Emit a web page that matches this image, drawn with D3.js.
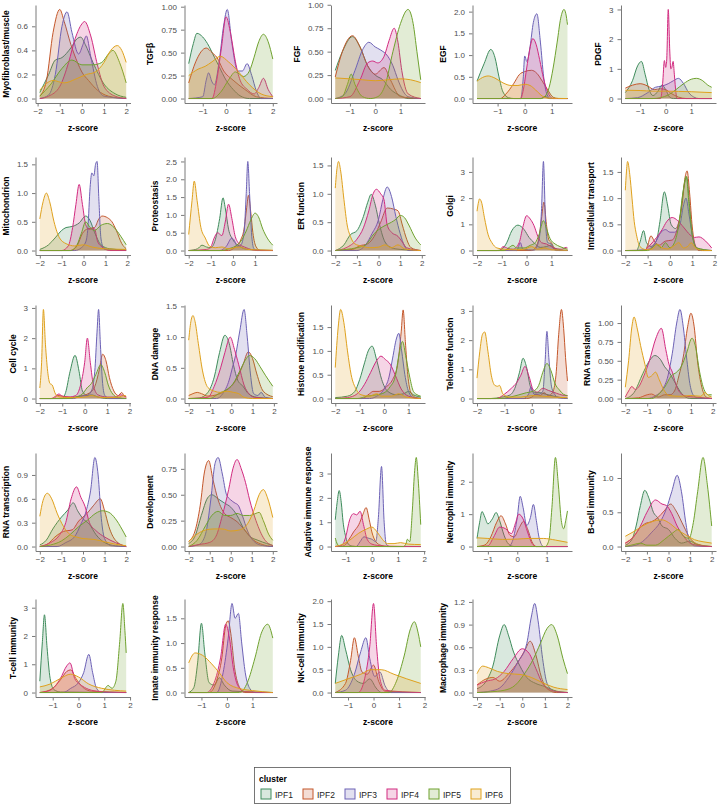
<!DOCTYPE html>
<html><head><meta charset="utf-8">
<script src="https://cdn.jsdelivr.net/npm/d3@7"></script>
<style>
body{margin:0;background:#fff;}
text{font-family:"Liberation Sans",Arial,Helvetica,sans-serif;}
</style></head>
<body>
<script>
// ---------- DATA ----------
const clusters = ["IPF1","IPF2","IPF3","IPF4","IPF5","IPF6"];
const panels = ["Myofibroblast/muscle","TGFβ","FGF","EGF","PDGF",
  "Mitochondrion","Proteostasis","ER function","Golgi","Intracellular transport",
  "Cell cycle","DNA damage","Histone modification","Telomere function","RNA translation",
  "RNA transcription","Development","Adaptive immune response","Neutrophil immunity","B-cell immunity",
  "T-cell immunity","Innate immunity response","NK-cell immunity","Macrophage immunity"];
// z-score range of each panel's data
const xRange = [[-1.9,2.0],[-1.6,2.0],[-1.58,1.8],[-1.76,1.58],[-1.58,1.8],
  [-2,1.95],[-2,1.8],[-2,1.95],[-2,1.65],[-2,1.87],
  [-2,1.85],[-2,1.95],[-2,1.5],[-2,1.3],[-2,1.95],
  [-2,2],[-2,2],[-1.4,1.87],[-1.37,1.71],[-2,2],
  [-1.5,1.85],[-1.5,1.8],[-1.5,1.85],[-2,2]];
const yTickLabels = [["0.0","0.2","0.4","0.6"],["0.00","0.25","0.50","0.75","1.00"],["0.00","0.25","0.50","0.75","1.00"],["0.0","0.5","1.0","1.5","2.0"],["0","1","2","3"],
  ["0.0","0.5","1.0","1.5"],["0.0","0.5","1.0","1.5","2.0","2.5"],["0.0","0.5","1.0","1.5"],["0","1","2","3"],["0.0","0.5","1.0","1.5"],
  ["0","1","2","3"],["0.0","0.5","1.0","1.5"],["0.0","0.5","1.0","1.5"],["0","1","2","3"],["0.00","0.25","0.50","0.75","1.00"],
  ["0.0","0.3","0.6","0.9"],["0.00","0.25","0.50","0.75"],["0","1","2","3"],["0","1","2"],["0.0","0.5","1.0"],
  ["0","1","2","3"],["0.0","0.5","1.0","1.5"],["0.0","0.5","1.0","1.5","2.0"],["0.0","0.3","0.6","0.9","1.2"]];

// density curves: flat [z, density, z, density, ...] per panel
const ipf1 = [
 [-1.9,0.05,-1.5,0.2,-1.2,0.32,-0.9,0.34,-0.5,0.42,-0.2,0.5,-0.05,0.51,0.15,0.45,0.5,0.3,1.0,0.12,1.5,0.04,2.0,0.01],
 [-1.6,0.38,-1.4,0.6,-1.25,0.71,-1.0,0.67,-0.8,0.6,-0.5,0.45,-0.3,0.35,0,0.2,0.3,0.1,0.6,0.03,1.0,0,2.0,0],
 [-1.58,0.3,-1.3,0.5,-0.9,0.66,-0.6,0.55,-0.3,0.35,0,0.25,0.3,0.2,0.6,0.1,1.0,0.03,1.3,0,1.8,0],
 [-1.76,0.4,-1.5,0.8,-1.25,1.13,-1.1,0.95,-0.95,0.5,-0.8,0.15,-0.6,0.02,-0.4,0,0.6,0,0.75,0.05,0.9,0,1.58,0],
 [-1.58,0.2,-1.3,0.6,-1.1,1.1,-0.95,1.25,-0.8,0.8,-0.65,0.3,-0.5,0.1,-0.3,0.25,-0.15,0.45,0,0.3,0.15,0.05,0.3,0,1.8,0],
 [-2,0.02,-1.6,0.1,-1.3,0.22,-1.0,0.35,-0.8,0.4,-0.5,0.42,-0.2,0.48,0.1,0.6,0.3,0.52,0.5,0.32,0.8,0.1,1.2,0.03,1.95,0.01],
 [-2,0,-1.6,0.05,-1.4,0.15,-1.2,0.1,-1.0,0.08,-0.8,0.3,-0.6,0.9,-0.45,1.48,-0.35,1.2,-0.2,0.6,0,0.3,0.3,0.12,0.7,0.03,1.8,0],
 [-2,0,-1.6,0.1,-1.3,0.28,-1.0,0.35,-0.7,0.6,-0.5,0.85,-0.34,0.99,-0.15,0.8,0.05,0.45,0.3,0.15,0.6,0.05,1.0,0.02,1.95,0],
 [-2,0,-1.2,0,-1.0,0.05,-0.8,0.3,-0.6,0.75,-0.35,0.97,-0.1,0.8,0.1,0.5,0.3,0.3,0.55,0.12,0.8,0.15,0.95,0.2,1.1,0.1,1.3,0.04,1.65,0],
 [-2,0,-1.5,0,-1.35,0.15,-1.18,0.38,-1.05,0.15,-0.85,0.08,-0.6,0.2,-0.45,0.55,-0.25,1.12,-0.1,0.85,0.05,0.5,0.25,0.42,0.45,0.65,0.62,1.2,0.75,1.4,0.87,0.9,1.0,0.3,1.2,0.05,1.87,0],
 [-2,0,-1.0,0,-0.85,0.2,-0.65,0.9,-0.43,1.43,-0.25,0.9,-0.1,0.25,0.1,0.1,0.3,0.12,0.6,0.05,1.0,0,1.85,0],
 [-2,0,-1.5,0.01,-1.1,0.1,-0.8,0.35,-0.55,0.75,-0.3,1.03,-0.1,0.9,0.1,0.55,0.3,0.3,0.55,0.2,0.8,0.08,1.2,0.02,1.95,0],
 [-2,0.02,-1.5,0.05,-1.2,0.15,-1.0,0.4,-0.8,0.75,-0.65,1.0,-0.49,1.1,-0.3,0.8,-0.1,0.4,0.15,0.15,0.5,0.08,0.8,0.1,1.0,0.15,1.2,0.08,1.5,0.03],
 [-2,0,-1.5,0,-1.1,0.05,-0.8,0.12,-0.6,0.4,-0.45,0.9,-0.32,1.38,-0.2,1.1,-0.05,0.4,0.1,0.2,0.3,0.2,0.5,0.15,0.8,0.08,1.3,0],
 [-2,0,-1.6,0.08,-1.2,0.33,-0.9,0.5,-0.65,0.57,-0.4,0.52,-0.2,0.42,0,0.35,0.2,0.25,0.45,0.12,0.7,0.03,1.0,0,1.95,0],
 [-2,0.02,-1.7,0.08,-1.4,0.22,-1.0,0.37,-0.7,0.46,-0.45,0.55,-0.25,0.45,0,0.35,0.3,0.28,0.6,0.15,1.0,0.05,1.5,0.01,2,0],
 [-2,0.03,-1.7,0.1,-1.4,0.3,-1.1,0.47,-0.9,0.5,-0.6,0.46,-0.3,0.42,0,0.38,0.3,0.3,0.6,0.18,0.9,0.1,1.3,0.06,1.7,0.03,2,0.01],
 [-1.4,1.1,-1.33,1.8,-1.25,2.3,-1.17,1.8,-1.1,1.0,-1.0,0.4,-0.9,0.1,-0.75,0.02,-0.5,0,1.87,0],
 [-1.37,0.25,-1.28,0.75,-1.2,1.08,-1.1,0.9,-1.0,0.7,-0.85,0.85,-0.72,1.05,-0.6,0.8,-0.45,0.35,-0.3,0.08,-0.1,0,1.71,0],
 [-2,0.02,-1.7,0.1,-1.5,0.3,-1.3,0.6,-1.1,0.82,-0.9,0.7,-0.7,0.5,-0.5,0.42,-0.3,0.3,0,0.25,0.3,0.12,0.6,0.05,1.0,0.08,1.3,0.03,2,0],
 [-1.5,0.4,-1.4,1.8,-1.32,2.75,-1.22,1.6,-1.1,0.5,-0.95,0.1,-0.7,0.02,1.85,0],
 [-1.5,0,-1.3,0.1,-1.15,0.6,-1.0,1.4,-0.87,0.8,-0.7,0.2,-0.5,0.15,-0.3,0.3,-0.1,0.15,0.2,0.03,1.8,0],
 [-1.5,0.2,-1.38,0.8,-1.25,1.25,-1.1,0.95,-0.9,0.5,-0.65,0.25,-0.4,0.2,-0.15,0.3,0.1,0.1,0.3,0,1.85,0],
 [-2,0.05,-1.6,0.15,-1.3,0.35,-1.0,0.75,-0.8,0.9,-0.6,0.75,-0.4,0.55,-0.1,0.35,0.2,0.2,0.6,0.12,1.0,0.08,1.5,0.02,2,0]
];
const ipf2 = [
 [-1.9,0.02,-1.6,0.15,-1.3,0.55,-1.0,0.74,-0.8,0.64,-0.5,0.45,-0.2,0.3,0,0.22,0.3,0.15,0.7,0.07,1.2,0.02,2.0,0],
 [-1.6,0.17,-1.3,0.4,-0.85,0.55,-0.6,0.5,-0.4,0.45,-0.1,0.3,0.3,0.2,0.8,0.1,1.3,0.02,2.0,0],
 [-1.58,0.23,-1.3,0.5,-0.9,0.67,-0.6,0.55,-0.3,0.35,0,0.26,0.35,0.33,0.6,0.2,1.0,0.02,1.8,0],
 [-1.76,0,-0.9,0,-0.7,0.1,-0.4,0.35,-0.2,0.55,0,0.62,0.25,0.65,0.45,0.58,0.65,0.4,0.85,0.2,1.05,0.03,1.25,0,1.58,0],
 [-1.58,0.35,-1.3,0.45,-1.0,0.5,-0.7,0.42,-0.45,0.3,-0.2,0.33,0,0.3,0.2,0.18,0.5,0.05,0.8,0,1.8,0],
 [-2,0,-0.6,0,-0.3,0.08,-0.05,0.3,0.2,0.38,0.5,0.4,0.7,0.55,0.85,0.6,1.1,0.57,1.3,0.5,1.5,0.35,1.75,0.12,1.95,0.03],
 [-2,0,-0.2,0,0.1,0.1,0.35,0.3,0.5,0.6,0.62,1.2,0.7,1.55,0.8,1.1,0.9,0.5,1.05,0.1,1.25,0,1.8,0],
 [-2,0,-1.2,0.02,-0.9,0.08,-0.5,0.12,-0.2,0.25,0.1,0.5,0.4,0.75,0.7,0.73,0.9,0.7,1.1,0.45,1.3,0.2,1.5,0.05,1.95,0],
 [-2,0,0.2,0,0.35,0.1,0.5,0.5,0.6,1.2,0.7,1.85,0.8,1.0,0.9,0.4,1.0,0.3,1.15,0.05,1.3,0,1.65,0],
 [-2,0,-1.1,0,-1.0,0.1,-0.85,0.28,-0.7,0.18,-0.5,0.1,-0.2,0.18,0.1,0.2,0.35,0.45,0.55,0.9,0.68,1.4,0.77,1.52,0.88,1.1,1.0,0.45,1.15,0.08,1.3,0,1.87,0],
 [-2,0,-1.4,0,-1.2,0.1,-1.0,0.08,-0.6,0.04,-0.2,0.08,0.2,0.18,0.45,0.4,0.65,0.95,0.8,1.47,0.95,1.25,1.1,0.7,1.3,0.25,1.5,0.1,1.65,0.2,1.75,0.1,1.85,0.05],
 [-2,0.05,-1.8,0.08,-1.6,0.1,-1.4,0.08,-1.1,0.04,-0.7,0.06,-0.3,0.12,0,0.2,0.3,0.35,0.55,0.55,0.8,0.76,1.0,0.65,1.2,0.4,1.5,0.12,1.95,0.03],
 [-2,0,-0.9,0,-0.6,0.1,-0.45,0.15,-0.2,0.15,0.1,0.25,0.35,0.4,0.55,0.7,0.7,1.4,0.78,1.86,0.87,1.2,0.97,0.5,1.1,0.12,1.3,0.02,1.5,0],
 [-2,0,-0.2,0,0,0.05,0.15,0.15,0.3,0.1,0.45,0.2,0.6,0.1,0.75,0.2,0.88,0.8,0.98,2.2,1.08,3.05,1.16,2.4,1.23,1.4,1.3,0.6],
 [-2,0,-1.4,0.01,-1.0,0.05,-0.8,0.06,-0.5,0.02,-0.2,0.05,0.05,0.05,0.25,0.1,0.45,0.3,0.65,0.55,0.85,0.95,1.0,1.13,1.15,0.95,1.3,0.5,1.5,0.15,1.7,0.02,1.95,0],
 [-2,0,-1.6,0.04,-1.3,0.12,-0.9,0.19,-0.5,0.21,-0.2,0.32,0.2,0.42,0.5,0.52,0.8,0.6,1.0,0.45,1.2,0.25,1.5,0.08,2,0],
 [-2,0.05,-1.7,0.15,-1.45,0.4,-1.25,0.72,-1.05,0.83,-0.85,0.65,-0.6,0.45,-0.3,0.32,0,0.28,0.3,0.24,0.7,0.15,1.1,0.06,1.5,0.02,2,0],
 [-1.4,0,-1.1,0.02,-0.9,0.25,-0.7,0.6,-0.5,0.9,-0.35,1.3,-0.22,1.6,-0.1,1.1,0,0.6,0.15,0.2,0.35,0.05,0.6,0,1.87,0],
 [-1.37,0,-1.1,0.05,-0.9,0.3,-0.7,0.75,-0.55,0.95,-0.4,0.7,-0.25,0.35,-0.1,0.3,0.05,0.55,0.22,0.78,0.35,0.55,0.5,0.15,0.65,0,1.71,0],
 [-2,0.05,-1.6,0.15,-1.3,0.28,-1.05,0.34,-0.8,0.36,-0.5,0.42,-0.2,0.52,0.1,0.62,0.35,0.52,0.7,0.3,1.0,0.12,1.4,0.03,2,0],
 [-1.5,0,-1.0,0.15,-0.7,0.45,-0.45,0.75,-0.3,0.8,-0.1,0.5,0.15,0.2,0.5,0.05,1.85,0],
 [-1.5,0,-0.7,0,-0.4,0.25,-0.2,0.7,-0.05,1.35,0.05,1.45,0.15,1.2,0.3,0.5,0.5,0.1,0.7,0,1.8,0],
 [-1.5,0,-1.1,0.2,-0.9,0.7,-0.75,1.2,-0.6,0.8,-0.45,0.45,-0.25,0.4,0,0.6,0.2,0.25,0.45,0.03,1.85,0],
 [-2,0.1,-1.6,0.18,-1.3,0.2,-1.0,0.15,-0.6,0.25,-0.2,0.4,0.1,0.55,0.35,0.68,0.6,0.5,0.85,0.2,1.1,0.05,1.5,0,2,0]
];
const ipf3 = [
 [-1.9,0,-1.5,0.03,-1.2,0.2,-0.9,0.6,-0.67,0.72,-0.45,0.55,-0.15,0.37,0.05,0.45,0.2,0.52,0.4,0.35,0.7,0.1,1.0,0.02,2.0,0],
 [-1.6,0,-1.0,0.02,-0.85,0.2,-0.75,0.28,-0.6,0.18,-0.5,0.15,-0.3,0.4,-0.1,0.8,0.05,0.97,0.25,0.6,0.5,0.3,0.7,0.3,0.9,0.38,1.1,0.25,1.3,0.08,1.5,0,2.0,0],
 [-1.58,0,-1.2,0.05,-0.8,0.3,-0.5,0.52,-0.25,0.6,0,0.55,0.2,0.52,0.5,0.45,0.7,0.35,0.9,0.2,1.1,0.08,1.3,0.02,1.8,0],
 [-1.76,0,-0.15,0,-0.05,0.5,0.0,0.98,0.08,0.85,0.2,1.2,0.32,1.75,0.45,1.95,0.58,1.3,0.7,0.5,0.82,0.1,0.95,0,1.58,0],
 [-1.58,0,-1.1,0.03,-0.7,0.2,-0.4,0.38,-0.15,0.42,0.1,0.5,0.3,0.6,0.5,0.68,0.7,0.5,0.9,0.2,1.1,0.05,1.3,0,1.8,0],
 [-2,0,-0.4,0,-0.1,0.05,0.1,0.15,0.2,0.4,0.3,1.1,0.38,1.35,0.47,1.3,0.55,1.5,0.62,1.55,0.7,0.9,0.8,0.2,0.95,0.02,1.95,0],
 [-2,0,-0.6,0,-0.3,0.12,-0.05,0.35,0.05,0.3,0.2,0.12,0.35,0.15,0.5,0.5,0.6,1.6,0.67,2.5,0.75,1.6,0.85,0.4,0.95,0.05,1.1,0,1.8,0],
 [-2,0,-1.0,0,-0.6,0.1,-0.3,0.3,0.0,0.55,0.2,0.9,0.4,1.12,0.6,0.95,0.8,0.6,1.0,0.3,1.2,0.08,1.4,0,1.95,0],
 [-2,0,-0.4,0,-0.25,0.3,-0.15,0.05,0.3,0.02,0.5,0.4,0.6,1.5,0.68,3.4,0.76,1.2,0.85,0.3,1.0,0.25,1.1,0.05,1.2,0,1.65,0],
 [-2,0,-1.0,0.02,-0.7,0.12,-0.4,0.35,-0.2,0.4,0.0,0.35,0.2,0.35,0.45,0.5,0.6,0.85,0.72,1.0,0.85,0.7,1.0,0.3,1.15,0.08,1.4,0,1.87,0],
 [-2,0,-0.5,0,-0.2,0.08,0.1,0.1,0.3,0.25,0.45,0.9,0.55,2.2,0.62,2.95,0.7,1.8,0.8,0.5,0.9,0.1,1.1,0,1.85,0],
 [-2,0,-0.7,0,-0.4,0.08,-0.1,0.3,0.05,0.5,0.2,0.7,0.4,1.1,0.6,1.45,0.75,1.0,0.9,0.4,1.05,0.08,1.25,0.05,1.4,0.1,1.6,0.02,1.95,0],
 [-2,0,-0.6,0,-0.3,0.05,0,0.2,0.2,0.45,0.35,0.85,0.5,1.25,0.6,1.37,0.72,1.0,0.85,0.5,1.0,0.15,1.2,0.02,1.5,0],
 [-2,0,-0.3,0,-0.12,0.15,-0.03,0.4,0.08,0.15,0.25,0.15,0.4,0.25,0.48,1.2,0.55,2.3,0.62,1.4,0.72,0.4,0.85,0.12,1.0,0.02,1.3,0],
 [-2,0,-1.0,0,-0.6,0.04,-0.3,0.12,-0.05,0.3,0.15,0.6,0.35,1.0,0.5,1.18,0.65,0.95,0.8,0.55,0.95,0.2,1.1,0.05,1.3,0.01,1.95,0],
 [-2,0,-1.2,0,-0.8,0.05,-0.4,0.12,-0.1,0.28,0.15,0.45,0.35,0.7,0.55,1.12,0.7,0.9,0.85,0.35,1.0,0.1,1.3,0.01,2,0],
 [-2,0,-1.5,0.02,-1.2,0.12,-0.95,0.45,-0.75,0.8,-0.6,0.86,-0.4,0.7,-0.2,0.5,0,0.45,0.2,0.42,0.35,0.4,0.55,0.3,0.8,0.15,1.1,0.05,1.5,0.01,2,0],
 [-1.4,0,-0.6,0,-0.45,0.2,-0.3,0.4,-0.15,0.35,0,0.3,0.15,0.2,0.25,1.2,0.37,3.29,0.47,1.0,0.55,0.1,0.7,0,1.87,0],
 [-1.37,0,-0.3,0,-0.15,0.2,0,0.9,0.1,1.55,0.2,1.2,0.32,0.65,0.45,0.9,0.55,1.3,0.65,0.8,0.75,0.25,0.9,0,1.71,0],
 [-2,0,-1.5,0.02,-1.1,0.1,-0.8,0.2,-0.4,0.35,-0.1,0.55,0.15,0.8,0.4,1.04,0.6,0.8,0.8,0.35,0.95,0.1,1.2,0.01,2,0],
 [-1.5,0,-0.6,0,-0.3,0.15,0,0.35,0.2,0.7,0.4,1.35,0.55,0.7,0.7,0.15,0.9,0,1.85,0],
 [-1.5,0,-0.4,0,-0.15,0.4,0.05,1.1,0.2,1.8,0.32,1.5,0.45,1.6,0.58,1.0,0.72,0.4,0.9,0.08,1.1,0,1.8,0],
 [-1.5,0,-1.1,0.05,-0.75,0.4,-0.5,0.9,-0.3,1.2,-0.15,0.75,0.05,0.35,0.25,0.45,0.45,0.15,0.7,0,1.85,0],
 [-2,0,-1.4,0.02,-1.0,0.06,-0.6,0.2,-0.2,0.4,0.2,0.65,0.4,1.0,0.55,1.18,0.7,0.95,0.9,0.45,1.1,0.12,1.4,0.02,2,0]
];
const ipf4 = [
 [-1.9,0,-1.5,0.02,-1.0,0.1,-0.6,0.3,-0.3,0.5,0,0.62,0.12,0.64,0.4,0.52,0.7,0.28,1.0,0.1,1.5,0.02,2.0,0],
 [-1.6,0,-0.6,0,-0.4,0.2,-0.2,0.55,0,0.89,0.2,0.7,0.4,0.4,0.6,0.2,0.9,0.1,1.2,0.05,1.4,0.12,1.6,0.22,1.8,0.1,2.0,0.02],
 [-1.58,0,-1.0,0.02,-0.6,0.2,-0.3,0.38,-0.1,0.4,0.1,0.38,0.35,0.45,0.55,0.62,0.75,0.75,0.9,0.6,1.05,0.3,1.3,0.05,1.8,0],
 [-1.76,0,-0.15,0,-0.05,0.2,0.05,0.6,0.15,1.0,0.3,1.38,0.42,1.25,0.55,0.9,0.7,0.45,0.85,0.15,1.05,0,1.58,0],
 [-1.58,0,-0.2,0,-0.12,0.5,-0.05,1.28,0.0,1.05,0.04,1.3,0.1,3.0,0.16,1.6,0.2,1.0,0.24,1.05,0.29,1.25,0.34,0.8,0.4,0.2,0.45,0,1.8,0],
 [-2,0,-1.0,0,-0.7,0.08,-0.5,0.4,-0.35,0.8,-0.2,1.15,-0.05,0.8,0.1,0.45,0.25,0.37,0.5,0.38,0.65,0.15,0.9,0.05,1.2,0,1.95,0],
 [-2,0,-1.2,0.03,-1.0,0.1,-0.85,0.35,-0.7,0.5,-0.5,0.42,-0.35,0.8,-0.2,1.3,-0.05,0.9,0.1,0.4,0.3,0.18,0.6,0.08,1.0,0.01,1.8,0],
 [-2,0,-1.5,0.05,-1.0,0.2,-0.7,0.4,-0.45,0.7,-0.25,1.0,-0.1,1.08,0.1,1.0,0.25,0.9,0.4,0.45,0.6,0.32,0.9,0.25,1.1,0.15,1.3,0.05,1.95,0],
 [-2,0,-1.1,0,-0.95,0.15,-0.75,0.08,-0.55,0.05,-0.3,0.3,-0.15,0.9,0,1.33,0.15,1.2,0.3,0.95,0.45,0.55,0.6,0.3,0.8,0.25,1.1,0.1,1.4,0.05,1.6,0.12,1.65,0.1],
 [-2,0,-1.2,0,-0.9,0.1,-0.6,0.25,-0.35,0.4,-0.15,0.55,0.1,0.63,0.35,0.57,0.6,0.45,0.9,0.3,1.1,0.25,1.3,0.26,1.6,0.18,1.87,0.05],
 [-2,0,-1.5,0,-1.3,0.08,-1.15,0.15,-1.0,0.08,-0.7,0.05,-0.4,0.1,-0.2,0.4,0,1.2,0.12,2.0,0.25,1.2,0.4,0.4,0.6,0.12,1.0,0.05,1.4,0.05,1.6,0.12,1.85,0.05],
 [-2,0,-1.1,0.02,-0.8,0.2,-0.5,0.5,-0.3,0.75,-0.05,1.0,0.15,0.8,0.35,0.55,0.6,0.22,0.85,0.07,1.1,0.02,1.95,0],
 [-2,0,-1.5,0.02,-1.1,0.1,-0.8,0.3,-0.55,0.55,-0.3,0.8,-0.13,0.89,0.05,0.82,0.25,0.72,0.45,0.5,0.7,0.2,1.0,0.05,1.5,0],
 [-2,0,-1.3,0,-1.0,0.15,-0.75,0.35,-0.55,0.55,-0.4,0.8,-0.25,1.1,-0.1,0.75,0.05,0.3,0.2,0.22,0.4,0.35,0.6,0.28,0.9,0.18,1.1,0.12,1.3,0.1],
 [-2,0.02,-1.85,0.1,-1.7,0.16,-1.55,0.12,-1.4,0.15,-1.15,0.3,-0.9,0.5,-0.6,0.8,-0.35,0.93,-0.15,0.65,0.0,0.45,0.15,0.35,0.3,0.2,0.5,0.08,0.8,0.03,1.2,0.02,1.95,0],
 [-2,0,-1.5,0.05,-1.1,0.14,-0.8,0.3,-0.55,0.6,-0.3,0.75,-0.1,0.62,0.1,0.5,0.3,0.3,0.6,0.2,1.0,0.12,1.5,0.05,2,0],
 [-2,0,-1.5,0.02,-1.0,0.04,-0.7,0.1,-0.4,0.3,-0.1,0.55,0.1,0.75,0.3,0.84,0.5,0.75,0.7,0.62,0.9,0.45,1.2,0.25,1.6,0.07,2,0.01],
 [-1.4,0,-1.15,0.05,-1.0,0.4,-0.85,1.1,-0.7,1.35,-0.58,1.3,-0.45,1.45,-0.32,0.9,-0.18,0.3,0,0.1,0.2,0.05,0.5,0.02,1.87,0],
 [-1.37,0,-1.0,0.02,-0.8,0.3,-0.6,0.6,-0.4,0.55,-0.2,0.4,-0.05,0.75,0.05,1.0,0.2,0.85,0.35,0.45,0.5,0.1,0.65,0,1.71,0],
 [-2,0.05,-1.6,0.15,-1.3,0.3,-1.0,0.5,-0.6,0.68,-0.3,0.62,-0.1,0.6,0.15,0.48,0.4,0.3,0.7,0.15,1.0,0.05,1.5,0.01,2,0],
 [-1.5,0,-1.1,0.08,-0.7,0.5,-0.45,0.95,-0.33,1.05,-0.15,0.5,0.05,0.3,0.3,0.15,0.7,0.05,1.2,0.02,1.85,0],
 [-1.5,0,-0.8,0,-0.5,0.2,-0.25,0.7,-0.05,1.38,0.1,1.1,0.25,0.5,0.45,0.12,0.7,0.02,1.8,0],
 [-1.5,0,-0.6,0,-0.35,0.3,-0.15,1.0,0,1.95,0.12,1.0,0.25,0.3,0.45,0.05,1.85,0],
 [-2,0.1,-1.6,0.15,-1.2,0.18,-0.8,0.28,-0.4,0.45,0,0.58,0.3,0.52,0.6,0.32,0.9,0.12,1.2,0.04,1.6,0.01,2,0]
];
const ipf5 = [
 [-1.9,0.02,-1.4,0.12,-0.9,0.25,-0.45,0.32,0,0.28,0.5,0.28,0.9,0.3,1.2,0.37,1.4,0.4,1.7,0.3,2.0,0.13],
 [-1.6,0,-0.6,0,-0.2,0.08,0.1,0.2,0.4,0.29,0.75,0.24,1.0,0.3,1.2,0.45,1.4,0.62,1.6,0.7,1.8,0.62,2.0,0.43],
 [-1.58,0,-1.3,0.02,-1.1,0.15,-0.95,0.26,-0.8,0.15,-0.5,0.02,-0.2,0,0.1,0.02,0.4,0.15,0.7,0.5,1.0,0.8,1.3,0.95,1.5,0.8,1.65,0.5,1.8,0.2],
 [-1.76,0,0.6,0,0.75,0.05,0.9,0.25,1.05,0.7,1.2,1.3,1.33,1.85,1.45,2.05,1.52,1.95,1.58,1.7],
 [-1.58,0,-0.5,0,-0.2,0.03,0.1,0.12,0.4,0.3,0.7,0.5,1.0,0.65,1.2,0.68,1.45,0.6,1.65,0.45,1.8,0.38],
 [-2,0,-0.6,0,-0.3,0.1,-0.1,0.3,0.1,0.5,0.3,0.4,0.5,0.35,0.8,0.44,1.1,0.47,1.4,0.4,1.7,0.25,1.95,0.1],
 [-2,0,-0.5,0,-0.2,0.05,0.1,0.12,0.4,0.3,0.6,0.55,0.8,0.85,1.0,1.05,1.15,0.95,1.35,0.6,1.55,0.35,1.8,0.15],
 [-2,0,-1.5,0.02,-1.0,0.05,-0.6,0.1,-0.2,0.3,0.2,0.42,0.6,0.5,0.8,0.55,1.0,0.62,1.2,0.58,1.4,0.45,1.7,0.22,1.95,0.1],
 [-2,0,-0.9,0,-0.7,0.12,-0.55,0.2,-0.4,0.1,-0.1,0.1,0.15,0.2,0.35,0.3,0.5,0.6,0.68,1.14,0.8,0.85,0.95,0.45,1.15,0.25,1.35,0.15,1.65,0.05],
 [-2,0,-1.0,0,-0.8,0.05,-0.6,0.12,-0.4,0.05,-0.2,0.15,0,0.05,0.2,0.15,0.4,0.5,0.58,1.1,0.73,1.42,0.85,0.9,1.0,0.3,1.2,0.05,1.87,0],
 [-2,0,-0.8,0,-0.4,0.05,-0.1,0.15,0.1,0.35,0.3,0.5,0.5,0.8,0.72,1.12,0.9,0.85,1.05,0.45,1.25,0.15,1.5,0.03,1.85,0],
 [-2,0,-1.0,0,-0.6,0.08,-0.2,0.15,0.1,0.25,0.4,0.45,0.65,0.62,0.85,0.7,1.1,0.65,1.35,0.52,1.6,0.38,1.95,0.2],
 [-2,0,-1.1,0,-0.7,0.05,-0.3,0.08,0,0.12,0.25,0.25,0.45,0.45,0.62,0.95,0.75,1.2,0.9,0.85,1.05,0.45,1.2,0.15,1.35,0.08,1.5,0.05],
 [-2,0,-1.2,0,-0.8,0.05,-0.5,0.12,-0.2,0.2,0.05,0.25,0.25,0.45,0.4,0.9,0.55,1.2,0.7,0.95,0.85,0.5,1.0,0.3,1.15,0.15,1.3,0.1],
 [-2,0,-0.8,0,-0.5,0.05,-0.2,0.15,0.1,0.3,0.35,0.35,0.55,0.42,0.8,0.6,1.05,0.8,1.2,0.7,1.4,0.35,1.6,0.12,1.8,0.05,1.95,0.05],
 [-2,0,-1.5,0.02,-1.0,0.07,-0.6,0.15,-0.2,0.25,0.2,0.33,0.6,0.42,0.9,0.45,1.2,0.43,1.5,0.35,1.8,0.22,2,0.12],
 [-2,0,-1.6,0.06,-1.2,0.2,-0.9,0.3,-0.6,0.34,-0.3,0.3,0,0.3,0.3,0.32,0.6,0.3,0.9,0.3,1.2,0.32,1.35,0.33,1.55,0.25,1.8,0.12,2,0.06],
 [-1.4,0.35,-1.32,0.1,-1.2,0,1.2,0,1.3,0.1,1.36,0.3,1.45,0.2,1.55,1.5,1.63,3.0,1.7,3.66,1.77,2.8,1.87,0.9],
 [-1.37,0,0.95,0,1.08,0.2,1.18,1.2,1.3,2.75,1.4,1.9,1.5,0.8,1.58,0.55,1.65,0.8,1.71,1.1],
 [-2,0,-1.6,0.03,-1.3,0.05,-1.0,0.02,-0.6,0.02,-0.2,0.1,0.2,0.2,0.45,0.25,0.7,0.15,0.95,0.12,1.15,0.35,1.35,0.8,1.6,1.3,1.8,0.9,2,0.3],
 [-1.5,0,0.9,0,1.15,0.25,1.3,0.15,1.45,0.4,1.6,1.8,1.72,3.15,1.8,2.2,1.85,1.4],
 [-1.5,0,0.5,0,0.8,0.2,1.1,0.7,1.35,1.2,1.6,1.38,1.8,1.1],
 [-1.5,0,0.6,0,0.9,0.25,1.2,0.8,1.45,1.4,1.6,1.55,1.75,1.3,1.85,1.0],
 [-2,0,-1.4,0.01,-0.8,0.03,-0.3,0.1,0.1,0.25,0.5,0.45,0.8,0.65,1.1,0.85,1.3,0.9,1.55,0.75,1.8,0.45,2,0.25]
];
const ipf6 = [
 [-1.9,0.07,-1.3,0.15,-0.8,0.13,-0.3,0.16,0.2,0.2,0.6,0.22,1.0,0.3,1.3,0.4,1.6,0.44,1.8,0.4,2.0,0.3],
 [-1.6,0.25,-1.2,0.32,-0.9,0.35,-0.6,0.4,-0.25,0.46,0.1,0.4,0.5,0.3,1.0,0.15,1.5,0.05,2.0,0.02],
 [-1.58,0.22,-1.0,0.21,-0.5,0.2,0,0.19,0.5,0.2,1.0,0.21,1.4,0.2,1.8,0.17],
 [-1.76,0.4,-1.5,0.5,-1.35,0.52,-1.1,0.47,-0.8,0.36,-0.5,0.3,-0.25,0.3,0,0.33,0.2,0.3,0.4,0.2,0.6,0.08,0.85,0.01,1.58,0],
 [-1.58,0.28,-1.0,0.27,-0.5,0.25,0,0.25,0.5,0.24,1.0,0.23,1.5,0.21,1.8,0.2],
 [-2,0.55,-1.85,0.85,-1.7,1.0,-1.55,0.85,-1.35,0.5,-1.1,0.22,-0.8,0.12,-0.4,0.08,0,0.1,0.4,0.06,1.0,0.03,1.95,0.02],
 [-2,0.45,-1.85,1.4,-1.75,1.95,-1.62,1.4,-1.45,0.65,-1.25,0.35,-1.05,0.12,-0.8,0.08,-0.5,0.1,-0.2,0.05,0.3,0.1,0.6,0.04,1.0,0.02,1.8,0.01],
 [-2,1.1,-1.92,1.45,-1.85,1.57,-1.75,1.4,-1.6,0.9,-1.45,0.45,-1.3,0.25,-1.1,0.12,-0.8,0.08,-0.4,0.05,0,0.06,0.3,0.1,0.6,0.05,0.9,0.1,1.2,0.03,1.95,0],
 [-2,1.5,-1.95,1.8,-1.9,1.97,-1.82,1.85,-1.7,1.25,-1.55,0.6,-1.4,0.3,-1.2,0.1,-0.9,0.05,-0.5,0.03,-0.1,0.05,0.2,0.15,0.45,0.05,0.7,0.1,1.0,0.03,1.65,0.01],
 [-2,1.15,-1.95,1.5,-1.9,1.7,-1.8,1.45,-1.7,1.0,-1.6,0.55,-1.5,0.3,-1.35,0.08,-1.1,0.02,-0.8,0.03,-0.55,0.12,-0.35,0.05,-0.1,0.03,0.15,0.08,0.4,0.15,0.6,0.05,0.8,0.08,0.95,0.15,1.15,0.05,1.5,0,1.87,0],
 [-2,0.35,-1.92,1.2,-1.84,2.95,-1.75,1.8,-1.65,0.9,-1.55,0.5,-1.45,0.45,-1.3,0.15,-1.1,0.05,-0.5,0.03,0.0,0.05,0.3,0.1,0.6,0.05,1.0,0.03,1.5,0.05,1.8,0.1,1.85,0.08],
 [-2,0.95,-1.9,1.25,-1.8,1.35,-1.7,1.25,-1.55,0.9,-1.35,0.45,-1.1,0.18,-0.8,0.12,-0.5,0.1,-0.2,0.12,0.1,0.1,0.35,0.08,0.6,0.02,1.0,0,1.95,0],
 [-2,0.65,-1.88,1.5,-1.78,1.87,-1.65,1.6,-1.5,1.0,-1.35,0.5,-1.15,0.2,-0.95,0.08,-0.6,0.05,-0.3,0.1,-0.1,0.05,0.3,0.05,0.6,0.1,0.9,0.03,1.5,0],
 [-2,0.7,-1.9,1.6,-1.8,2.2,-1.72,2.28,-1.6,1.6,-1.48,0.8,-1.35,0.45,-1.25,0.42,-1.18,0.45,-1.05,0.15,-0.8,0.05,-0.4,0.05,0,0.1,0.4,0.08,0.8,0.05,1.3,0.03],
 [-2,0.15,-1.85,0.5,-1.7,0.95,-1.6,1.08,-1.45,0.92,-1.3,0.7,-1.1,0.45,-0.95,0.28,-0.8,0.3,-0.62,0.35,-0.45,0.25,-0.25,0.12,0,0.04,0.5,0.03,1.0,0.04,1.45,0.03,1.65,0.08,1.8,0.04,1.95,0.02],
 [-2,0.38,-1.85,0.58,-1.65,0.67,-1.45,0.6,-1.2,0.42,-0.9,0.25,-0.6,0.15,-0.3,0.12,0,0.1,0.5,0.09,1.0,0.06,1.5,0.03,2,0.01],
 [-2,0.05,-1.6,0.12,-1.2,0.16,-0.8,0.17,-0.4,0.17,0,0.15,0.4,0.16,0.8,0.22,1.1,0.35,1.35,0.5,1.55,0.55,1.75,0.47,2,0.28],
 [-1.4,0,-1.1,0.1,-0.8,0.3,-0.5,0.55,-0.2,0.72,0,0.8,0.2,0.6,0.4,0.3,0.6,0.12,0.85,0.12,1.1,0.16,1.4,0.1,1.87,0.08],
 [-1.37,0.27,-1.0,0.25,-0.5,0.22,0,0.23,0.4,0.25,0.9,0.25,1.3,0.2,1.71,0.13],
 [-2,0.15,-1.6,0.22,-1.2,0.3,-0.8,0.36,-0.3,0.39,0,0.35,0.4,0.25,0.8,0.17,1.2,0.1,1.6,0.07,2,0.05],
 [-1.5,0.2,-1.1,0.3,-0.7,0.5,-0.3,0.65,0,0.55,0.4,0.3,0.9,0.15,1.4,0.08,1.85,0.05],
 [-1.5,0.6,-1.25,0.8,-0.95,0.75,-0.6,0.58,-0.3,0.4,0,0.2,0.5,0.08,1.0,0.04,1.8,0],
 [-1.5,0.2,-1.0,0.3,-0.5,0.4,-0.1,0.5,0.3,0.5,0.8,0.4,1.3,0.3,1.85,0.2],
 [-2,0.25,-1.75,0.35,-1.5,0.33,-1.1,0.28,-0.6,0.25,-0.1,0.24,0.4,0.2,0.9,0.13,1.4,0.07,2,0.04]
];
const dens = [ipf1, ipf2, ipf3, ipf4, ipf5, ipf6];

// ---------- STYLE / LAYOUT ----------
const lineCols = ["#3f8c5c","#c4572b","#6d62b6","#d22b80","#6fa22f","#dfa11d"];
const fillCols = ["#3f8c5c","#c4572b","#6d62b6","#d22b80","#6fa22f","#dfa11d"];
const colL = [35.5,184.5,331,472.5,621];
const colR = [130.5,277,425,572,716];
const rowTop = [5,157,305,453,599];
const panelH = 98;
const FONT = '"Liberation Sans",Arial,Helvetica,sans-serif';
const axisCol = "#7a7a7a";

const svg = d3.select("body").append("svg").attr("width",722).attr("height",805);

const fmtMinus = d => d < 0 ? "\u2212" + Math.abs(d) : String(d);

panels.forEach((name,i)=>{
  const col = i%5, row = Math.floor(i/5);
  const L = colL[col], R = colR[col], T = rowTop[row], B = T + panelH;
  const [x0,x1] = xRange[i];
  const xp = (x1-x0)*0.05;
  const x = d3.scaleLinear().domain([x0-xp, x1+xp]).range([L,R]);
  const series = dens.map(arr => d3.range(0, arr[i].length, 2).map(j => [arr[i][j], arr[i][j+1]]));
  const ymax = d3.max(series, s => d3.max(s, d => d[1]));
  const y = d3.scaleLinear().domain([-0.05*ymax, 1.05*ymax]).range([B,T]);
  const g = svg.append("g");
  const area = d3.area().x(d=>x(d[0])).y0(y(0)).y1(d=>y(d[1])).curve(d3.curveMonotoneX);
  const line = d3.line().x(d=>x(d[0])).y(d=>y(d[1])).curve(d3.curveMonotoneX);
  series.forEach((s,k)=>{
    g.append("path").attr("d", area(s)).attr("fill", fillCols[k]).attr("fill-opacity",0.2).attr("stroke","none");
    g.append("path").attr("d", line(s)).attr("fill","none").attr("stroke", lineCols[k]).attr("stroke-width",1);
  });
  // y axis
  const yt = yTickLabels[i];
  const ya = g.append("g").attr("transform",`translate(${L},0)`)
    .call(d3.axisLeft(y).tickValues(yt.map(Number)).tickFormat((d,j)=>yt[j]).tickSize(3.5).tickSizeOuter(0).tickPadding(4));
  // x axis
  const xd = x.domain();
  const xt = d3.range(Math.ceil(xd[0]), Math.floor(xd[1])+1);
  const xa = g.append("g").attr("transform",`translate(0,${B})`)
    .call(d3.axisBottom(x).tickValues(xt).tickFormat(fmtMinus).tickSize(3.5).tickSizeOuter(0).tickPadding(1.5));
  [ya,xa].forEach(a=>{
    a.selectAll("path").attr("stroke",axisCol).attr("stroke-width",1);
    a.selectAll("line").attr("stroke",axisCol).attr("stroke-width",1);
    a.selectAll("text").attr("fill","#4d4d4d").style("font-family",FONT).style("font-size","8px");
  });
  // titles
  let minX = 0;
  ya.selectAll("text").each(function(){ const b=this.getBBox(); minX=Math.min(minX,b.x); });
  const tx = L + minX - 8;
  g.append("text").attr("transform",`translate(${tx},${(T+B)/2}) rotate(-90)`)
    .attr("text-anchor","middle").style("font-family",FONT).style("font-size","8.5px").style("font-weight","bold").attr("fill","#000")
    .text(name);
  g.append("text").attr("x",(L+R)/2).attr("y",B+28).attr("text-anchor","middle")
    .style("font-family",FONT).style("font-size","8.5px").style("font-weight","bold").attr("fill","#000").text("z-score");
});

// legend
const lg = svg.append("g");
lg.append("rect").attr("x",254.5).attr("y",767.5).attr("width",256).attr("height",36).attr("fill","#fff").attr("stroke","#555").attr("stroke-width",0.8);
lg.append("text").attr("x",259).attr("y",782).style("font-family",FONT).style("font-size","8.5px").style("font-weight","bold").text("cluster");
clusters.forEach((c,k)=>{
  const kx = 261 + k*42;
  lg.append("rect").attr("x",kx).attr("y",789).attr("width",10).attr("height",10)
    .attr("fill",fillCols[k]).attr("fill-opacity",0.2).attr("stroke",lineCols[k]).attr("stroke-width",1);
  lg.append("text").attr("x",kx+14).attr("y",797.5).style("font-family",FONT).style("font-size","8.5px").attr("fill","#222").text(c);
});
</script>
</body></html>
